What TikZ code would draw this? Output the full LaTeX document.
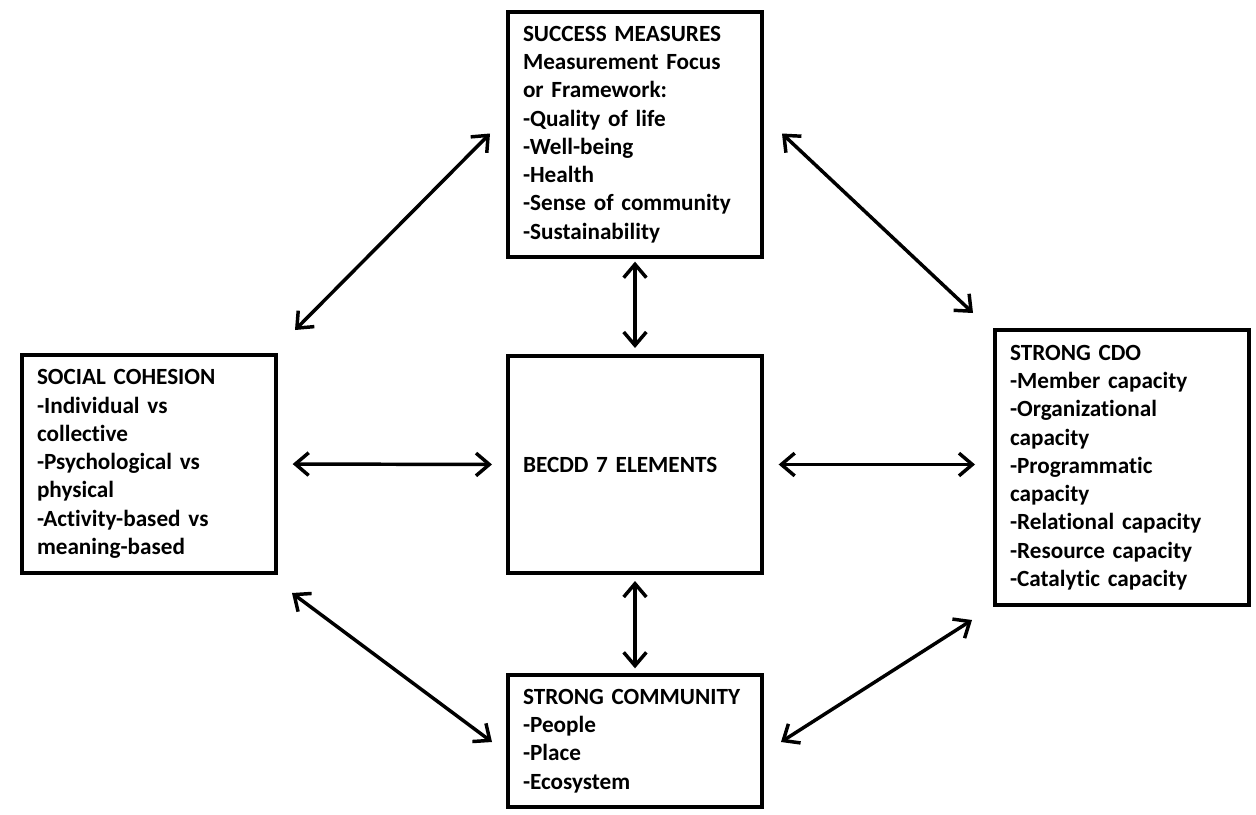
\documentclass[tikz,border=0pt]{standalone}
\usepackage{fontspec}
\setmainfont{Carlito}[Ligatures=CommonOff,WordSpace=0.85]
\usetikzlibrary{arrows.meta}
\usetikzlibrary{calc}
\tikzset{
    box/.style={draw, line width=3pt, outer sep=0pt, inner xsep=11.25pt, text width=168pt, align=left, anchor=north west, font=\bfseries\fontsize{17.4pt}{21.2pt}\selectfont},%
    link/.style={line width=2.6pt, {Straight Barb[length=10pt,width=17pt]}-{Straight Barb[length=10pt,width=17pt]}},%
}
\begin{document}
\begin{tikzpicture}[x=0.75pt,y=0.75pt,yscale=-1,xscale=1]
\useasboundingbox (0,0) rectangle (1256,814);

% Boxes
\node (top) [box, minimum height=183.75pt] at (508,12) {SUCCESS MEASURES\\Measurement Focus\\or Framework:\\-Quality of life\\-Well-being\\-Health\\-Sense of community\\-Sustainability};
\node (mid) [box, minimum height=162.75pt] at (508,356) {BECDD 7 ELEMENTS};
\node (left) [box, minimum height=163.5pt] at (22,355) {SOCIAL COHESION\\-Individual vs\\collective\\-Psychological vs\\physical\\-Activity-based vs\\meaning-based};
\node (right) [box, minimum height=206.25pt] at (995,330) {STRONG CDO\\-Member capacity\\-Organizational\\capacity\\-Programmatic\\capacity\\-Relational capacity\\-Resource capacity\\-Catalytic capacity};
\node (bot) [box, minimum height=99pt] at (508,675) {STRONG COMMUNITY\\-People\\-Place\\-Ecosystem};

% Arrows to the centre box
\draw [link, shorten <=3.5pt, shorten >=6pt] (top.south) -- (mid.north);
\draw [link, shorten <=6pt, shorten >=5pt] (mid.south) -- (bot.north);
\draw [link, shorten <=12.5pt, shorten >=12pt] (left.east) -- (mid.west);
\draw [link, shorten <=12.5pt, shorten >=15pt] (mid.east) -- (mid.east -| right.west);

% Arrows round the outside
\draw [link] ($(top.west)+(-18,-1)$) -- ($(left.north east)+(19,-25)$);
\draw [link] ($(top.east)+(20,-1)$) -- ($(right.north west)+(-22,-17)$);
\draw [link] ($(left.south east)+(16,20)$) -- ($(bot.west)+(-16,1)$);
\draw [link] ($(bot.east)+(19,1)$) -- ($(right.south west)+(-23,15)$);

\end{tikzpicture}
\end{document}
